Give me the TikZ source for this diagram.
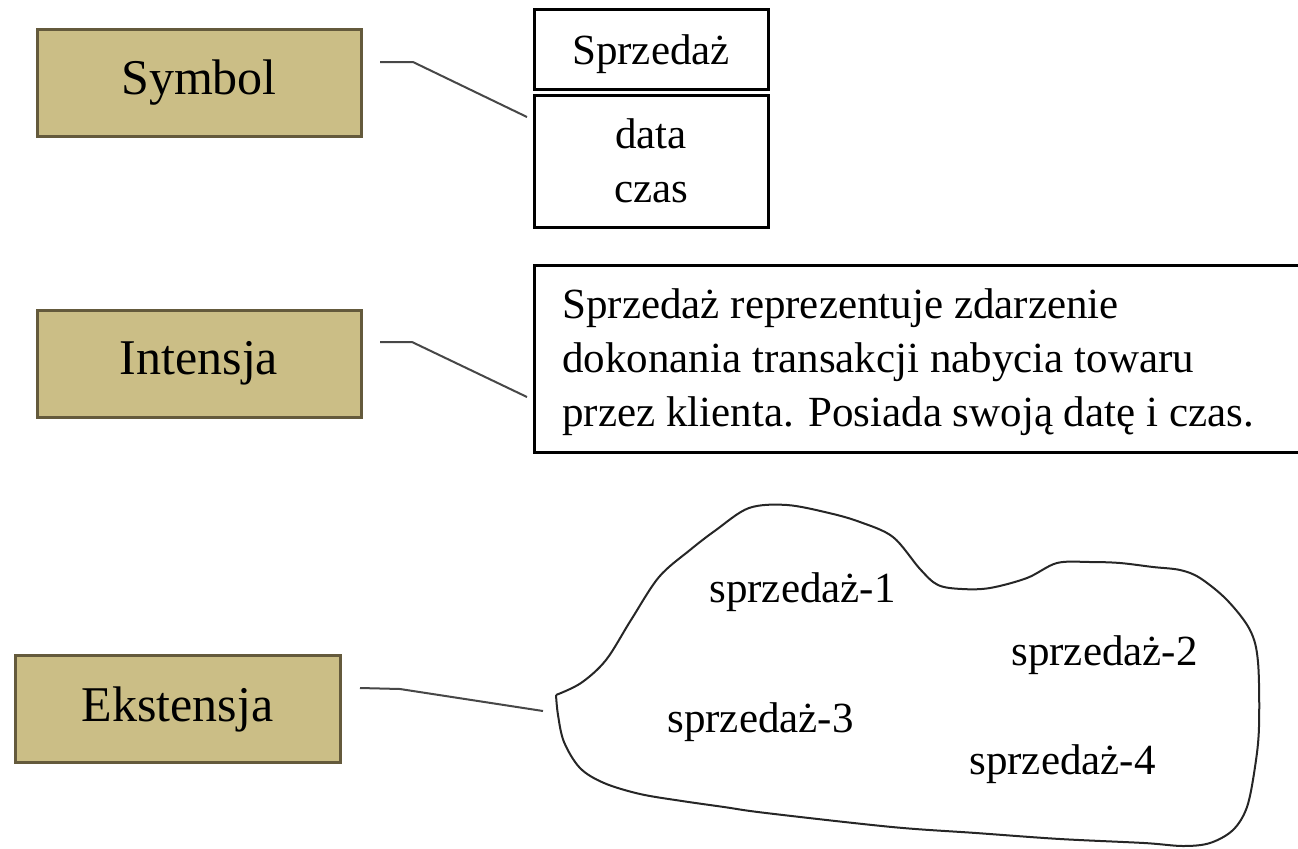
\documentclass[tikz,border=0pt]{standalone}
\usepackage{fontspec}
\setmainfont{Liberation Serif}
\definecolor{khaki}{RGB}{203,190,134}
\definecolor{khakiedge}{RGB}{100,90,60}
\begin{document}
\begin{tikzpicture}[x=0.5pt,y=-0.5pt,
  concept/.style={draw=khakiedge, line width=1.5pt, fill=khaki, inner sep=0pt,
    minimum width=162pt, minimum height=53.5pt, font=\fontsize{25}{30}\selectfont},
  frame/.style={draw=black, line width=1.5pt, fill=white, inner sep=0pt},
  small/.style={inner sep=0pt, font=\fontsize{21.5}{27}\selectfont},
  conn/.style={draw=black!72, line width=1pt},
  blob/.style={draw=black!85, line width=1pt}]
\useasboundingbox (0,0) rectangle (1298,848);

% concept boxes
\node[concept] (sym) at (199,82.5) {Symbol};
\node[concept] (int) at (199,363.5) {Intensja};
\node[concept, minimum width=162.5pt] (ext) at (177.5,709) {Ekstensja};

% symbol (class box)
\node[frame, minimum width=117pt, minimum height=40pt] (name) at (651,49) {};
\node[frame, minimum width=117pt, minimum height=66pt] (attr) at (651,161) {};
\node[small, anchor=base] (tname) at (651,64) {Sprzedaż};
\node[small, anchor=base] (tdata) at (651,148) {data};
\node[small, anchor=base] (tczas) at (651,202) {czas};

% intension box
\node[frame, minimum width=400pt, minimum height=93.5pt] (desc) at (934,358.5) {};
\node[small, anchor=base west] (d1) at (562,318) {Sprzedaż reprezentuje zdarzenie};
\node[small, anchor=base west] (d2) at (562,372) {dokonania transakcji nabycia towaru};
\node[small, anchor=base west] (d3) at (562,426) {przez klienta. Posiada swoją datę i czas.};

% extension blob
\draw[blob] plot[smooth, tension=0.55] coordinates {
  (556,695) (581,683) (606,660) (631,620) (659,577) (690,550) (716,530)
  (749,508) (787,505) (829,513) (860,522) (893,537) (920,569) (938,585)
  (962,589) (990,588) (1027,578) (1057,563) (1090,562) (1120,563)
  (1153,567) (1180,570) (1200,578) (1227,600) (1250,630) (1258,662)
  (1259,727) (1255,767) (1247,807) (1233,830) (1210,843) (1183,846)
  (1144,843) (1060,839) (976,833) (892,827) (766,813) (724,807)
  (682,801) (640,794) (604,783) (580,768) (564,742) (558,715) (556,695)};
\node[small, anchor=base west] (e1) at (709,602) {sprzedaż-1};
\node[small, anchor=base west] (e2) at (1011,665) {sprzedaż-2};
\node[small, anchor=base west] (e3) at (667,732) {sprzedaż-3};
\node[small, anchor=base west] (e4) at (969,774) {sprzedaż-4};

% connectors
\coordinate (s1) at (380,62);
\coordinate (s2) at (413,62);
\coordinate (s3) at (527,117);
\draw[conn] (s1) -- (s2) -- (s3);
\coordinate (i1) at (380,342);
\coordinate (i2) at (412,342);
\coordinate (i3) at (527,397);
\draw[conn] (i1) -- (i2) -- (i3);
\coordinate (x1) at (360,688);
\coordinate (x2) at (400,689);
\coordinate (x3) at (543,711);
\draw[conn] (x1) -- (x2) -- (x3);
\end{tikzpicture}
\end{document}
